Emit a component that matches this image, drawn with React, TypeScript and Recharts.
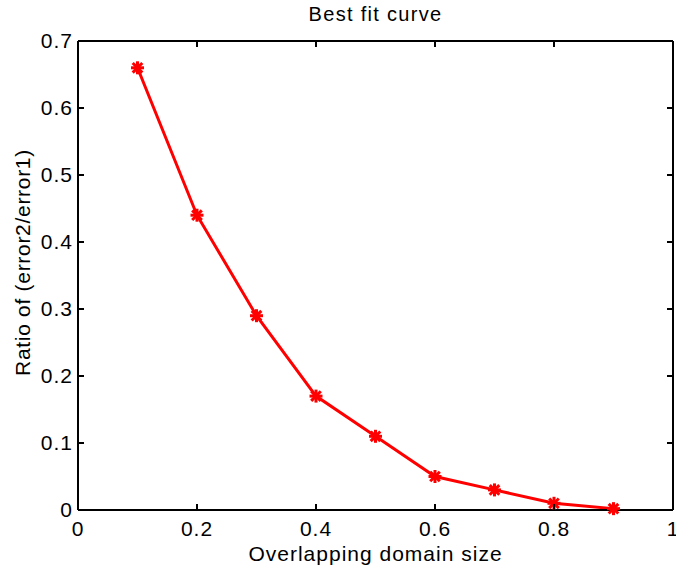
import { LineChart, Line, XAxis, YAxis, Label } from "recharts";

const domainSize = [0.1, 0.2, 0.3, 0.4, 0.5, 0.6, 0.7, 0.8, 0.9];
const errorRatio = [0.66, 0.44, 0.29, 0.17, 0.11, 0.05, 0.03, 0.01, 0.002];
const xTicks = [0, 0.2, 0.4, 0.6, 0.8, 1];
const yTicks = [0, 0.1, 0.2, 0.3, 0.4, 0.5, 0.6, 0.7];

const data = domainSize.map((x, i) => ({ x, ratio: errorRatio[i] }));

const FONT = "Arial, 'Liberation Sans', sans-serif";
const TICK_LEN = 6;

interface TickProps {
  x?: number;
  y?: number;
  payload?: { value: number };
}

function BottomTick({ x = 0, y = 0, payload }: TickProps) {
  return (
    <g>
      <line x1={x} y1={y} x2={x} y2={y - TICK_LEN} stroke="#000" strokeWidth={2} />
      <text x={x} y={y + 26} textAnchor="middle" fontSize={21} letterSpacing={1} fontFamily={FONT} fill="#000">
        {payload?.value}
      </text>
    </g>
  );
}

function LeftTick({ x = 0, y = 0, payload }: TickProps) {
  return (
    <g>
      <line x1={x} y1={y} x2={x + TICK_LEN} y2={y} stroke="#000" strokeWidth={2} />
      <text x={x - 5} y={y + 7} textAnchor="end" fontSize={21} letterSpacing={1} fontFamily={FONT} fill="#000">
        {payload?.value}
      </text>
    </g>
  );
}

// box ticks on top / right point inward, no labels
function TopTick({ x = 0, y = 0 }: TickProps) {
  return <line x1={x} y1={y} x2={x} y2={y + TICK_LEN} stroke="#000" strokeWidth={2} />;
}

function RightTick({ x = 0, y = 0 }: TickProps) {
  return <line x1={x} y1={y} x2={x - TICK_LEN} y2={y} stroke="#000" strokeWidth={2} />;
}

interface DotProps {
  cx?: number;
  cy?: number;
}

// MATLAB-style '*' marker
function StarDot({ cx, cy }: DotProps) {
  if (cx === undefined || cy === undefined) return null;
  const r = 6.5;
  const d = 4.8;
  return (
    <g stroke="#ff0000" strokeWidth={3}>
      <line x1={cx - r} y1={cy} x2={cx + r} y2={cy} />
      <line x1={cx} y1={cy - r} x2={cx} y2={cy + r} />
      <line x1={cx - d} y1={cy - d} x2={cx + d} y2={cy + d} />
      <line x1={cx - d} y1={cy + d} x2={cx + d} y2={cy - d} />
    </g>
  );
}

export default function App() {
  return (
    <div style={{ position: "absolute", left: 0, top: 0, background: "#fff" }}>
      <LineChart width={676} height={569} data={data} margin={{ top: 0, right: 0, bottom: 0, left: 0 }}>
        <XAxis
          xAxisId="bottom"
          dataKey="x"
          type="number"
          domain={[0, 1]}
          ticks={xTicks}
          orientation="bottom"
          height={59}
          tickSize={0}
          tickMargin={0}
          tick={<BottomTick />}
          axisLine={{ stroke: "#000", strokeWidth: 2 }}
          tickLine={false}
          interval={0}
        >
          <Label
            content={({ viewBox }: any) => (
              <text
                x={viewBox.x + viewBox.width / 2}
                y={viewBox.y + 51}
                textAnchor="middle"
                fontSize={21}
                letterSpacing={1}
                fontFamily={FONT}
                fill="#000"
              >
                Overlapping domain size
              </text>
            )}
          />
        </XAxis>
        <XAxis
          xAxisId="top"
          dataKey="x"
          type="number"
          domain={[0, 1]}
          ticks={xTicks}
          orientation="top"
          height={41}
          tickSize={0}
          tickMargin={0}
          tick={<TopTick />}
          axisLine={{ stroke: "#000", strokeWidth: 2 }}
          tickLine={false}
          interval={0}
        >
          <Label
            content={({ viewBox }: any) => (
              <text
                x={viewBox.x + viewBox.width / 2}
                y={viewBox.y + 21}
                textAnchor="middle"
                fontSize={20}
                letterSpacing={1.3}
                fontFamily={FONT}
                fill="#000"
              >
                Best fit curve
              </text>
            )}
          />
        </XAxis>
        <YAxis
          yAxisId="left"
          type="number"
          domain={[0, 0.7]}
          ticks={yTicks}
          orientation="left"
          width={78}
          tickSize={0}
          tickMargin={0}
          tick={<LeftTick />}
          axisLine={{ stroke: "#000", strokeWidth: 2 }}
          tickLine={false}
          interval={0}
        >
          <Label
            content={({ viewBox }: any) => {
              const cx = 30;
              const cy = viewBox.y + viewBox.height / 2 - 13;
              return (
                <text
                  x={cx}
                  y={cy}
                  transform={`rotate(-90, ${cx}, ${cy})`}
                  textAnchor="middle"
                  fontSize={21}
                  letterSpacing={0.7}
                  fontFamily={FONT}
                  fill="#000"
                >
                  Ratio of (error2/error1)
                </text>
              );
            }}
          />
        </YAxis>
        <YAxis
          yAxisId="right"
          type="number"
          domain={[0, 0.7]}
          ticks={yTicks}
          orientation="right"
          width={3}
          tickSize={0}
          tickMargin={0}
          tick={<RightTick />}
          axisLine={{ stroke: "#000", strokeWidth: 2 }}
          tickLine={false}
          interval={0}
        />
        {/* invisible series so the top/right box axes get drawn */}
        <Line
          xAxisId="top"
          yAxisId="right"
          type="linear"
          dataKey="ratio"
          stroke="none"
          dot={false}
          activeDot={false}
          isAnimationActive={false}
        />
        <Line
          xAxisId="bottom"
          yAxisId="left"
          type="linear"
          dataKey="ratio"
          stroke="#ff0000"
          strokeWidth={3}
          dot={<StarDot />}
          activeDot={false}
          isAnimationActive={false}
        />
      </LineChart>
    </div>
  );
}
